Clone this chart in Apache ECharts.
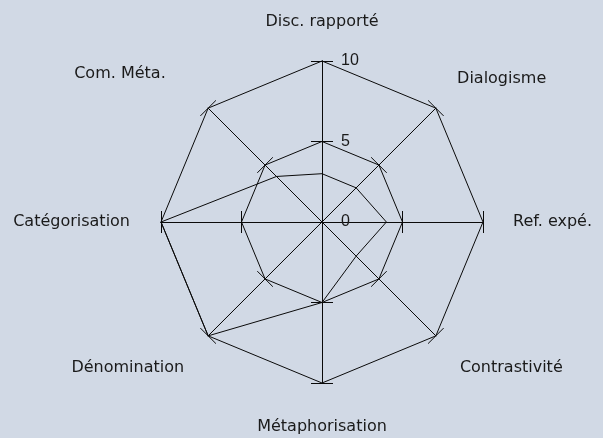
<!DOCTYPE html>
<html>
<head>
<meta charset="utf-8">
<script src="https://cdn.jsdelivr.net/npm/echarts@6/dist/echarts.min.js"></script>
<style>
  html, body { margin: 0; padding: 0; background: #d1d9e5; }
</style>
</head>
<body>
<div id="chart" style="width: 603px;height:438px;"></div>
<script>
// indicators, counter-clockwise from the top
const categories = ['Disc. rapporté', 'Com. Méta.', 'Catégorisation', 'Dénomination',
  'Métaphorisation', 'Contrastivité', 'Ref. expé.', 'Dialogisme'];
const values = [3, 4, 10, 10, 5, 3, 4, 3];
const maxValue = 10;
const tickStep = 5;

var myChart = echarts.init(document.getElementById('chart'));

// label placement tweaks per indicator
const nameGaps = [31, 60, 31, 34, 36, 34, 30, 30];
const nameVAlign = [null, 'top', null, 'top', null, 'top', null, 'bottom'];

const radarBase = {
  center: [322, 222],
  radius: 161,
  startAngle: 90,
  shape: 'polygon',
  splitNumber: maxValue / tickStep,
  axisLine: { lineStyle: { color: '#0a0a0a', width: 1 } },
  splitArea: { show: false },
};

var option = {
  backgroundColor: '#d1d9e5',
  radar: [
    Object.assign({}, radarBase, {
      indicator: categories.map((name, i) => {
        const ind = { name, min: 0, max: maxValue, nameGap: nameGaps[i] };
        if (nameVAlign[i]) ind.nameTextStyle = { verticalAlign: nameVAlign[i] };
        if (i === 0) ind.axisLabel = { show: true };
        return ind;
      }),
      axisName: { color: '#1a1a1a', fontSize: 16, fontFamily: 'DejaVu Sans' },
      splitLine: { lineStyle: { color: '#0a0a0a', width: 1 } },
      axisTick: { show: true, length: 11, lineStyle: { color: '#0a0a0a' } },
      axisLabel: {
        show: false, color: '#1a1a1a', fontSize: 16, fontFamily: 'Liberation Sans',
        margin: -19, align: 'left'
      },
    }),
    // second copy only to draw the other half of each tick
    Object.assign({}, radarBase, {
      indicator: categories.map(() => ({ name: '', min: 0, max: maxValue })),
      axisName: { show: false },
      splitLine: { show: false },
      axisTick: { show: true, length: -11, lineStyle: { color: '#0a0a0a' } },
      axisLabel: { show: false },
    })
  ],
  series: [{
    type: 'radar',
    radarIndex: 0,
    symbol: 'none',
    lineStyle: { color: '#0a0a0a', width: 1 },
    data: [{ value: values, name: 'Profil' }]
  }]
};

option && myChart.setOption(option);
</script>
</body>
</html>
